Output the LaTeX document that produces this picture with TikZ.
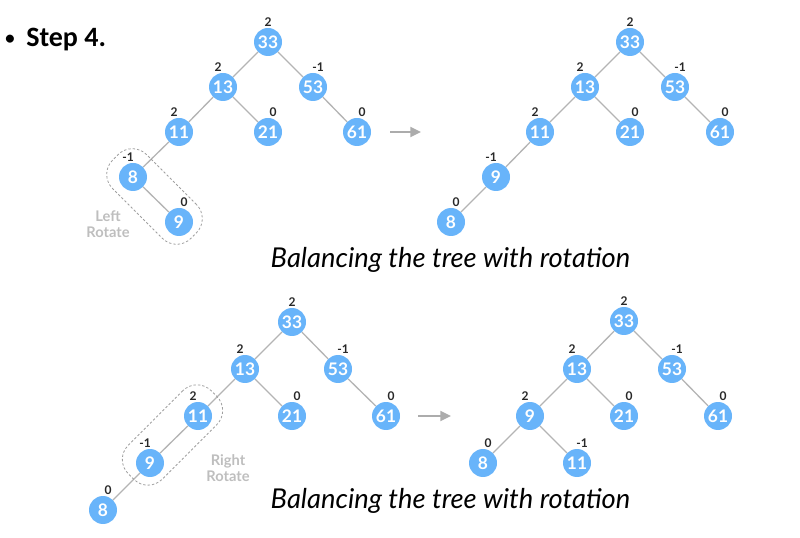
\documentclass[tikz,border=0pt]{standalone}
\usepackage{fontspec}
\usetikzlibrary{arrows.meta,calc}

\newfontfamily\latofont{Lato}
\newfontfamily\stepfont{Carlito}
\definecolor{avlblue}{RGB}{104,180,250}
\definecolor{edgegray}{RGB}{180,180,180}
\definecolor{notegray}{RGB}{190,190,190}
\definecolor{balgray}{RGB}{40,40,40}

\begin{document}
\begin{tikzpicture}[x=0.75pt,y=-0.75pt,>=Latex,
	avl/.style={circle,fill=avlblue,text=white,minimum size=21pt,inner sep=0pt,
		font=\latofont\bfseries\fontsize{13}{14}\selectfont},
	bal/.style={font=\latofont\bfseries\fontsize{9}{10}\selectfont,text=balgray,inner sep=0.5pt},
	balC/.style={label={[bal,label distance=0pt]above:#1}},
	balL/.style={label={[bal,label distance=0pt,xshift=-3.75pt]above:#1}},
	balR/.style={label={[bal,label distance=0pt,xshift=3.75pt]above:#1}},
	link/.style={draw=edgegray,line width=1pt},
	flow/.style={draw=gray!65,line width=1.5pt,-{Triangle[length=8pt,width=7.5pt]}},
	rotbox/.style={draw=gray!75,dash pattern=on 1.8pt off 1.5pt,line width=0.6pt,
		rounded corners=15pt,minimum width=#1,minimum height=36pt,inner sep=0pt},
	rotbox/.default=83pt,
	note/.style={align=center,text=notegray,font=\latofont\bfseries\fontsize{11}{12.5}\selectfont},
	caption/.style={anchor=base west,font=\latofont\itshape\fontsize{20.5}{22}\selectfont}
	]
	\useasboundingbox (0,0) rectangle (800,538);
	
	% ======================================================
	% Heading
	% ======================================================
	\node[anchor=base west,inner sep=0pt,font=\stepfont\fontsize{17}{20}\selectfont]
	(bullet) at (4,46) {•};
	\node[anchor=base west,inner sep=0pt,font=\stepfont\bfseries\fontsize{21}{24}\selectfont]
	(step) at (26,47) {Step 4.};
	
	% ======================================================
	% Row 1, before: left rotate on 8--9
	% ======================================================
	\node[avl,balC=2]  (a33) at (268,42)  {33};
	\node[avl,balL=2]  (a13) at (223,87)  {13};
	\node[avl,balR=-1] (a53) at (313,87)  {53};
	\node[avl,balL=2]  (a11) at (179,132) {11};
	\node[avl,balR=0]  (a21) at (268,132) {21};
	\node[avl,balR=0]  (a61) at (357,132) {61};
	\node[avl,balL=-1] (a8)  at (133,177) {8};
	\node[avl,balR=0]  (a9)  at (179,222) {9};
	\foreach \p/\c in {a33/a13,a33/a53,a13/a11,a13/a21,a53/a61,a11/a8,a8/a9}
	\draw[link] (\p) -- (\c);
	
	% rotation hint
	\node[rotbox,rotate=-45] (abox) at ($(a8)!0.5!(a9)+(-1.5,-3)$) {};
	\node[note] (anote) at (108,224) {Left\\Rotate};
	
	% arrow to result
	\coordinate (aout) at (390,132);
	\coordinate (bin) at (421,132);
	\draw[flow] (aout) -- (bin);
	
	% ======================================================
	% Row 1, after
	% ======================================================
	\node[avl,balC=2]  (b33) at (630,42)  {33};
	\node[avl,balL=2]  (b13) at (585,87)  {13};
	\node[avl,balR=-1] (b53) at (675,87)  {53};
	\node[avl,balL=2]  (b11) at (540,132) {11};
	\node[avl,balR=0]  (b21) at (630,132) {21};
	\node[avl,balR=0]  (b61) at (720,132) {61};
	\node[avl,balL=-1] (b9)  at (496,177) {9};
	\node[avl,balR=0]  (b8)  at (451,222) {8};
	\foreach \p/\c in {b33/b13,b33/b53,b13/b11,b13/b21,b53/b61,b11/b9,b9/b8}
	\draw[link] (\p) -- (\c);
	
	\node[caption] (cap1) at (266,268) {Balancing the tree with rotation};
	
	% ======================================================
	% Row 2, before: right rotate on 11--9
	% ======================================================
	\node[avl,balC=2]  (c33) at (292,322) {33};
	\node[avl,balL=2]  (c13) at (245,369) {13};
	\node[avl,balR=-1] (c53) at (338,369) {53};
	\node[avl,balL=2]  (c11) at (198,416) {11};
	\node[avl,balR=0]  (c21) at (292,416) {21};
	\node[avl,balR=0]  (c61) at (386,416) {61};
	\node[avl,balL=-1] (c9)  at (150,463) {9};
	\node[avl,balR=0]  (c8)  at (103,510) {8};
	\foreach \p/\c in {c33/c13,c33/c53,c13/c11,c13/c21,c53/c61,c11/c9,c9/c8}
	\draw[link] (\p) -- (\c);
	
	% rotation hint
	\node[rotbox=88pt,rotate=45] (cbox) at ($(c9)!0.5!(c11)+(-1.5,-4.5)$) {};
	\node[note] (cnote) at (228,468) {Right\\Rotate};
	
	% arrow to result
	\coordinate (cout) at (418,416);
	\coordinate (din) at (451,416);
	\draw[flow] (cout) -- (din);
	
	% ======================================================
	% Row 2, after
	% ======================================================
	\node[avl,balC=2]  (d33) at (624,321) {33};
	\node[avl,balL=2]  (d13) at (577,369) {13};
	\node[avl,balR=-1] (d53) at (672,369) {53};
	\node[avl,balL=2]  (d9)  at (530,416) {9};
	\node[avl,balR=0]  (d21) at (624,416) {21};
	\node[avl,balR=0]  (d61) at (718,416) {61};
	\node[avl,balR=0]  (d8)  at (483,463) {8};
	\node[avl,balR=-1] (d11) at (577,463) {11};
	\foreach \p/\c in {d33/d13,d33/d53,d13/d9,d13/d21,d53/d61,d9/d8,d9/d11}
	\draw[link] (\p) -- (\c);
	
	\node[caption] (cap2) at (266,508) {Balancing the tree with rotation};
	
\end{tikzpicture}
\end{document}
